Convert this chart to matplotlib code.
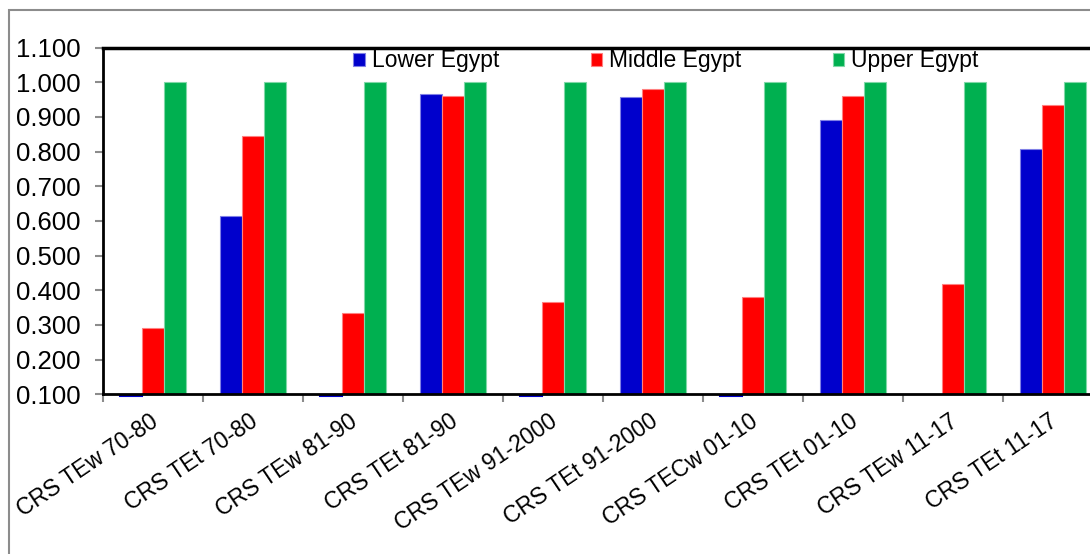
import numpy as np
import matplotlib
matplotlib.use("Agg")
import matplotlib.pyplot as plt
import matplotlib.transforms as mtransforms
from matplotlib.patches import Rectangle

plt.rcParams['font.family'] = ['Liberation Sans', 'DejaVu Sans']

# performance index per period and region
periods = ['CRS TEw 70-80', 'CRS TEt 70-80', 'CRS TEw 81-90', 'CRS TEt 81-90',
           'CRS TEw 91-2000', 'CRS TEt 91-2000', 'CRS TECw 01-10', 'CRS TEt 01-10',
           'CRS TEw 11-17', 'CRS TEt 11-17']
lower_egypt = [0.0, 0.615, 0.0, 0.966, 0.0, 0.956, 0.0, 0.892, np.nan, 0.808]
middle_egypt = [0.290, 0.844, 0.334, 0.960, 0.366, 0.979, 0.381, 0.961, 0.419, 0.933]
upper_egypt = [1.000, 1.000, 1.000, 1.000, 1.000, 1.000, 1.000, 1.000, 1.000, 1.000]

regions = ['Lower Egypt', 'Middle Egypt', 'Upper Egypt']
colors = ['#0000CC', '#FF0000', '#00B050']
edges = ['#8080E6', '#FF8080', '#80D8A8']
y_min, y_max = 0.1, 1.1

W, H = 1090, 554
fig = plt.figure(figsize=(W / 100, H / 100), dpi=100)
fig.patch.set_facecolor('white')

# outer chart frame (runs off the right and bottom edge)
fig.patches.append(Rectangle((9 / W, -0.1), 1.2, 1.1 - 10 / H, transform=fig.transFigure,
                             fill=False, edgecolor='#8C8C8C', linewidth=1.5))

ax = fig.add_axes([103 / W, 1 - 394.3 / H, 1000 / W, (394.3 - 47.5) / H])

x = np.arange(len(periods))
w = 0.22
series = [lower_egypt, middle_egypt, upper_egypt]
below = mtransforms.offset_copy(ax.transData, fig=fig, x=0, y=-2, units='dots')
for i, (vals, name, c, ec) in enumerate(zip(series, regions, colors, edges)):
    vals = np.array(vals, dtype=float)
    pos = x + (i - 1) * w
    ok = vals >= y_min
    ax.bar(pos[ok], vals[ok] - y_min, bottom=y_min, width=w, color=c,
           edgecolor=ec, linewidth=0.8, label=name, zorder=2)
    # values under the axis floor show as a flat line
    low = vals < y_min
    for p in pos[low]:
        ax.plot([p - w / 2, p + w / 2], [y_min, y_min], color=c, linewidth=1.5,
                transform=below, clip_on=False, zorder=1)

ax.set_xlim(-0.5, len(periods) - 0.5)
ax.set_ylim(y_min, y_max)
ax.set_yticks(np.arange(0.1, 1.1001, 0.1))
ax.set_yticklabels([f'{v:.3f}' for v in np.arange(0.1, 1.1001, 0.1)], fontsize=18.5)
ax.tick_params(axis='y', direction='out', length=6, width=1.5, color='#8C8C8C', pad=10)

ax.set_xticks(np.arange(-0.5, len(periods) + 0.5, 1.0))
ax.set_xticklabels([])
ax.tick_params(axis='x', which='major', direction='out', length=6, width=1.5, color='#8C8C8C')
ax.set_xticks(x, minor=True)
ax.set_xticklabels(periods, minor=True, fontsize=16.5, rotation=34,
                   ha='right', va='top', rotation_mode='anchor')
ax.tick_params(axis='x', which='minor', length=0, pad=11)
nudge = mtransforms.ScaledTranslation(-4 / 100, 0, fig.dpi_scale_trans)
for lbl in ax.get_xticklabels(minor=True):
    lbl.set_transform(lbl.get_transform() + nudge)

for s in ['left', 'bottom']:
    ax.spines[s].set_color('black')
    ax.spines[s].set_linewidth(2)
ax.spines['top'].set_color('black')
ax.spines['top'].set_linewidth(2.5)
ax.spines['right'].set_visible(False)

ax.legend(loc='center', bbox_to_anchor=(666 / W, 1 - 61 / H), bbox_transform=fig.transFigure,
          ncol=3, frameon=False, fontsize=16.5, handlelength=0.5, handleheight=0.5,
          handletextpad=0.3, columnspacing=4.0, borderpad=0)

fig.savefig('out.png', dpi=100, facecolor='white')
